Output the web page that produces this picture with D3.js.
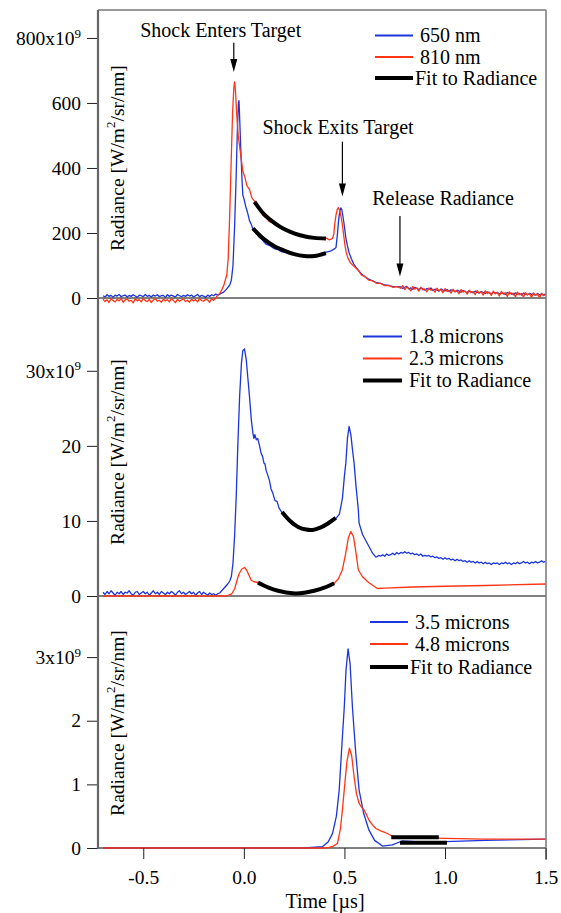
<!DOCTYPE html>
<html>
<head>
<meta charset="utf-8">
<title>Radiance vs Time</title>
<script src="https://d3js.org/d3.v7.min.js"></script>
<style>
    body {
        margin: 0;
        background: #fff;
    }
    svg text {
        font-family: "Liberation Serif", serif;
        fill: #000;
    }
</style>
</head>
<body>
<div id="chart"></div>
<script>
    // ---- data: [time in µs, radiance] ----
    const visible650 = [
        [-0.70,7],[-0.69,3],[-0.68,10],[-0.67,5],[-0.66,8],[-0.65,2],[-0.64,9],[-0.63,6],[-0.62,11],[-0.61,4],
        [-0.60,7],[-0.59,9],[-0.58,3],[-0.57,8],[-0.56,5],[-0.55,10],[-0.54,6],[-0.53,2],[-0.52,9],[-0.51,7],
        [-0.50,4],[-0.49,11],[-0.48,5],[-0.47,8],[-0.46,3],[-0.45,9],[-0.44,6],[-0.43,10],[-0.42,4],[-0.41,7],
        [-0.40,8],[-0.39,2],[-0.38,10],[-0.37,5],[-0.36,9],[-0.35,6],[-0.34,3],[-0.33,11],[-0.32,7],[-0.31,4],
        [-0.30,8],[-0.29,5],[-0.28,10],[-0.27,6],[-0.26,9],[-0.25,3],[-0.24,7],[-0.23,11],[-0.22,4],[-0.21,8],
        [-0.20,6],[-0.19,2],[-0.18,9],[-0.17,5],[-0.16,10],[-0.15,7],[-0.14,12],[-0.13,9],
        [-0.12,12],[-0.10,18],[-0.085,28],[-0.07,40],[-0.062,55],[-0.054,100],[-0.046,219],[-0.038,380],
        [-0.032,520],[-0.027,600],[-0.024,607],[-0.02,540],[-0.016,470],[-0.013,425],[-0.009,360],[-0.005,317],
        [0.002,302],[0.01,280],[0.018,264],[0.028,238],[0.036,228],[0.045,212],[0.06,202],[0.075,188],
        [0.09,180],[0.11,166],[0.13,161],[0.15,152],[0.17,149],[0.19,142],[0.21,141],[0.23,135],[0.25,134],
        [0.27,130],[0.29,130],[0.31,127],[0.33,130],[0.35,129],[0.37,133],[0.39,134],[0.41,141],[0.43,144],
        [0.45,151],[0.458,155],[0.465,195],[0.472,245],[0.478,270],[0.482,277],[0.487,272],[0.493,250],
        [0.50,220],[0.507,185],[0.515,160],[0.523,140],[0.535,120],[0.546,105],[0.556,96],[0.57,85],[0.585,74],
        [0.60,66],[0.62,58],[0.64,53],[0.66,47],[0.68,45],[0.70,40],[0.72,39],[0.74,35],[0.76,35],
        [0.78,34],[0.79,29],[0.80,33],[0.81,36],[0.82,28],[0.83,31],[0.84,27],[0.85,33],[0.86,30],[0.87,26],
        [0.88,31],[0.89,28],[0.90,24],[0.91,29],[0.92,27],[0.93,31],[0.94,23],[0.95,27],[0.96,25],[0.97,21],
        [0.98,28],[0.99,24],[1.00,22],[1.01,26],[1.02,20],[1.03,25],[1.04,23],[1.05,19],[1.06,24],[1.07,21],
        [1.08,18],[1.09,23],[1.10,20],[1.11,17],[1.12,22],[1.13,19],[1.14,16],[1.15,21],[1.16,18],[1.17,15],
        [1.18,20],[1.19,17],[1.20,14],[1.21,19],[1.22,16],[1.23,13],[1.24,18],[1.25,15],[1.26,17],[1.27,12],
        [1.28,16],[1.29,14],[1.30,11],[1.31,17],[1.32,13],[1.33,15],[1.34,10],[1.35,16],[1.36,12],[1.37,14],
        [1.38,9],[1.39,15],[1.40,12],[1.41,10],[1.42,14],[1.43,11],[1.44,13],[1.45,8],[1.46,14],[1.47,10],
        [1.48,12],[1.49,9],[1.50,13]
    ];
    const visible810 = [
        [-0.70,-3],[-0.69,-11],[-0.68,-5],[-0.67,-14],[-0.66,-2],[-0.65,-8],[-0.64,-12],[-0.63,-4],[-0.62,-9],
        [-0.61,-1],[-0.60,-13],[-0.59,-6],[-0.58,-3],[-0.57,-10],[-0.56,-7],[-0.55,-15],[-0.54,-2],[-0.53,-9],
        [-0.52,-5],[-0.51,-12],[-0.50,-1],[-0.49,-8],[-0.48,-11],[-0.47,-4],[-0.46,-14],[-0.45,-6],[-0.44,-2],
        [-0.43,-10],[-0.42,-7],[-0.41,-13],[-0.40,-3],[-0.39,-9],[-0.38,-5],[-0.37,-12],[-0.36,-1],[-0.35,-8],
        [-0.34,-14],[-0.33,-4],[-0.32,-10],[-0.31,-6],[-0.30,-2],[-0.29,-11],[-0.28,-7],[-0.27,-13],[-0.26,-3],
        [-0.25,-9],[-0.24,-5],[-0.23,-12],[-0.22,-1],[-0.21,-8],[-0.20,-10],[-0.19,-4],[-0.18,-6],[-0.17,-13],
        [-0.16,-2],[-0.15,-7],
        [-0.14,0],[-0.13,8],[-0.12,14],[-0.11,25],[-0.10,38],[-0.09,60],[-0.085,70],[-0.078,120],
        [-0.07,260],[-0.063,420],[-0.056,570],[-0.05,645],[-0.046,665],[-0.042,640],[-0.035,560],[-0.028,500],
        [-0.021,466],[-0.013,428],[-0.005,390],[0.005,372],[0.015,346],[0.028,334],[0.04,308],[0.053,298],
        [0.065,280],[0.08,270],[0.095,254],[0.11,248],[0.125,236],[0.14,232],[0.16,222],[0.176,220],[0.19,212],
        [0.21,209],[0.23,201],[0.25,199],[0.27,192],[0.292,191],[0.31,186],[0.33,188],[0.35,183],[0.37,186],
        [0.39,181],[0.41,184],[0.425,179],[0.44,183],[0.447,195],[0.452,228],[0.458,255],[0.464,272],[0.47,278],
        [0.476,270],[0.483,250],[0.49,225],[0.497,190],[0.503,160],[0.509,140],[0.518,122],[0.53,108],
        [0.543,100],[0.556,93],[0.57,84],[0.585,70],[0.60,67],[0.62,55],[0.64,53],[0.66,45],[0.68,45],[0.70,38],
        [0.72,39],[0.74,33],[0.76,35],
        [0.78,30],[0.79,38],[0.80,26],[0.81,34],[0.82,29],[0.83,22],[0.84,35],[0.85,27],[0.86,31],[0.87,21],
        [0.88,33],[0.89,25],[0.90,28],[0.91,19],[0.92,31],[0.93,24],[0.94,27],[0.95,18],[0.96,30],[0.97,22],
        [0.98,26],[0.99,16],[1.00,29],[1.01,20],[1.02,24],[1.03,15],[1.04,27],[1.05,19],[1.06,22],[1.07,13],
        [1.08,26],[1.09,18],[1.10,21],[1.11,12],[1.12,24],[1.13,16],[1.14,20],[1.15,10],[1.16,23],[1.17,15],
        [1.18,19],[1.19,9],[1.20,22],[1.21,14],[1.22,18],[1.23,8],[1.24,21],[1.25,13],[1.26,17],[1.27,6],
        [1.28,20],[1.29,12],[1.30,16],[1.31,5],[1.32,19],[1.33,11],[1.34,15],[1.35,4],[1.36,18],[1.37,10],
        [1.38,14],[1.39,3],[1.40,17],[1.41,9],[1.42,13],[1.43,2],[1.44,16],[1.45,8],[1.46,12],[1.47,1],
        [1.48,15],[1.49,7],[1.50,11]
    ];
    const fit650 = [[0.045,214],[0.10,181],[0.15,160],[0.20,146],[0.25,135],[0.30,129],[0.35,129],[0.408,138]];
    const fit810 = [[0.053,296],[0.10,258],[0.15,232],[0.20,212],[0.25,199],[0.30,190],[0.35,185],[0.408,183]];

    const ir18 = [
        [-0.70,0.5],[-0.69,0.2],[-0.68,0.6],[-0.67,0.3],[-0.66,0.7],[-0.65,0.4],[-0.64,0.1],[-0.63,0.5],
        [-0.62,0.3],[-0.61,0.6],[-0.60,0.2],[-0.59,0.5],[-0.58,0.4],[-0.57,0.7],[-0.56,0.3],[-0.55,0.1],
        [-0.54,0.5],[-0.53,0.6],[-0.52,0.2],[-0.51,0.4],[-0.50,0.6],[-0.49,0.3],[-0.48,0.5],[-0.47,0.1],
        [-0.46,0.4],[-0.45,0.7],[-0.44,0.3],[-0.43,0.5],[-0.42,0.2],[-0.41,0.6],[-0.40,0.4],[-0.39,0.2],
        [-0.38,0.5],[-0.37,0.3],[-0.36,0.6],[-0.35,0.4],[-0.34,0.1],[-0.33,0.5],[-0.32,0.7],[-0.31,0.3],
        [-0.30,0.5],[-0.29,0.2],[-0.28,0.4],[-0.27,0.6],[-0.26,0.3],[-0.25,0.5],[-0.24,0.1],[-0.23,0.4],
        [-0.22,0.6],[-0.21,0.2],[-0.20,0.5],[-0.19,0.3],[-0.18,0.1],[-0.17,0.4],[-0.16,0.2],[-0.15,0.3],
        [-0.14,0.1],[-0.13,0.3],
        [-0.12,0.4],[-0.11,0.7],[-0.10,1.0],[-0.09,1.3],[-0.08,1.6],[-0.07,2.0],[-0.062,2.6],[-0.054,4.4],
        [-0.046,8.0],[-0.038,13.2],[-0.03,20.0],[-0.021,26.6],[-0.012,31.0],[-0.005,32.7],[0.0035,32.9],
        [0.012,31.5],[0.02,29.0],[0.028,26.6],[0.037,23.5],[0.045,21.7],[0.05,21.0],[0.055,21.5],[0.062,20.8],
        [0.069,21.0],[0.078,20.0],[0.086,19.0],[0.093,18.6],[0.10,17.7],[0.105,17.6],[0.111,16.7],[0.12,16.0],
        [0.127,15.4],[0.135,14.3],[0.144,13.7],[0.155,12.7],[0.165,12.6],[0.175,11.7],[0.185,11.3],[0.21,10.4],
        [0.24,9.5],[0.27,9.2],[0.30,8.8],[0.342,8.9],[0.38,9.1],[0.42,9.9],[0.457,10.3],[0.475,10.9],
        [0.49,13.0],[0.50,16.0],[0.507,17.7],[0.515,21.0],[0.523,22.6],[0.532,21.5],[0.54,19.5],[0.548,17.7],
        [0.558,14.5],[0.569,11.5],[0.573,9.7],[0.59,8.2],[0.61,7.2],[0.622,6.6],[0.64,5.7],[0.655,5.2],
        [0.66,5.2],[0.67,5.4],[0.68,5.3],[0.69,5.5],[0.70,5.3],[0.71,5.6],[0.72,5.4],[0.73,5.5],[0.74,5.7],
        [0.75,5.5],[0.76,5.8],[0.77,5.6],[0.78,5.8],[0.79,5.7],[0.80,5.9],[0.81,5.7],[0.82,5.8],[0.83,5.6],
        [0.84,5.7],[0.85,5.5],[0.86,5.6],[0.87,5.4],[0.88,5.6],[0.89,5.3],[0.90,5.4],[0.91,5.3],[0.92,5.4],
        [0.93,5.2],[0.94,5.3],[0.95,5.1],[0.96,5.2],[0.97,5.0],[0.98,5.1],[0.99,4.9],[1.00,5.1],[1.01,4.9],
        [1.02,5.0],[1.03,4.8],[1.04,4.9],[1.05,4.7],[1.06,4.9],[1.07,4.7],[1.08,4.8],[1.09,4.6],[1.10,4.7],
        [1.11,4.5],[1.12,4.7],[1.13,4.5],[1.14,4.6],[1.15,4.4],[1.16,4.6],[1.17,4.4],[1.18,4.5],[1.19,4.3],
        [1.20,4.5],[1.21,4.3],[1.22,4.4],[1.23,4.2],[1.24,4.4],[1.25,4.3],[1.26,4.4],[1.27,4.2],[1.28,4.4],
        [1.29,4.3],[1.30,4.5],[1.31,4.3],[1.32,4.4],[1.33,4.2],[1.34,4.4],[1.35,4.3],[1.36,4.5],[1.37,4.3],
        [1.38,4.4],[1.39,4.6],[1.40,4.4],[1.41,4.5],[1.42,4.3],[1.43,4.5],[1.44,4.4],[1.45,4.6],[1.46,4.4],
        [1.47,4.5],[1.48,4.7],[1.49,4.5],[1.50,4.6]
    ];
    const ir23 = [
        [-0.70,0],[-0.10,0],[-0.08,0.05],[-0.06,0.3],[-0.045,1.0],[-0.038,1.7],[-0.025,2.9],[-0.01,3.6],
        [0.0035,3.8],[0.015,3.4],[0.025,2.8],[0.037,2.1],[0.05,1.9],[0.07,1.8],[0.10,1.4],[0.15,0.9],
        [0.20,0.55],[0.243,0.36],[0.30,0.45],[0.35,0.7],[0.40,1.1],[0.449,1.7],[0.47,2.3],[0.49,3.5],
        [0.505,5.5],[0.52,7.8],[0.532,8.6],[0.545,7.9],[0.555,6.2],[0.569,3.5],[0.589,2.6],[0.62,1.8],
        [0.664,1.0],[0.70,1.05],[0.838,1.2],[1.00,1.3],[1.20,1.4],[1.50,1.6]
    ];
    const fit18 = [[0.19,11.2],[0.23,10.0],[0.27,9.2],[0.31,8.85],[0.342,8.8],[0.38,9.1],[0.42,9.7],[0.457,10.4]];
    const fit23 = [[0.07,1.8],[0.12,1.15],[0.17,0.7],[0.243,0.36],[0.30,0.42],[0.35,0.7],[0.40,1.1],[0.449,1.7]];

    const ir35 = [
        [-0.70,0],[0.30,0],[0.39,0.02],[0.42,0.1],[0.441,0.23],[0.46,0.5],[0.474,0.91],[0.487,1.6],[0.499,2.2],
        [0.508,2.8],[0.518,3.13],[0.528,2.9],[0.54,2.2],[0.556,1.5],[0.573,0.91],[0.595,0.55],[0.622,0.28],
        [0.65,0.12],[0.689,0.03],[0.738,0.05],[0.787,0.11],[0.85,0.1],[1.00,0.1],[1.20,0.12],[1.50,0.14]
    ];
    const ir48 = [
        [-0.70,0],[0.40,0],[0.424,0.01],[0.445,0.03],[0.465,0.07],[0.48,0.3],[0.49,0.6],[0.499,0.91],
        [0.512,1.35],[0.525,1.57],[0.536,1.45],[0.548,1.12],[0.56,0.85],[0.573,0.70],[0.585,0.64],[0.597,0.60],
        [0.61,0.52],[0.622,0.44],[0.64,0.36],[0.655,0.31],[0.68,0.27],[0.705,0.24],[0.73,0.20],[0.746,0.18],
        [0.80,0.17],[0.90,0.16],[1.00,0.15],[1.20,0.14],[1.50,0.14]
    ];
    const fit35 = [[0.776,0.083],[1.01,0.083]];
    const fit48 = [[0.733,0.17],[0.969,0.17]];

    const xTicks = [-0.5, 0, 0.5, 1.0, 1.5];
    const yTicks1 = [0, 200, 400, 600, 800];
    const yTicks2 = [0, 10, 20, 30];
    const yTicks3 = [0, 1, 2, 3];
    const legend1 = ["650 nm", "810 nm", "Fit to Radiance"];
    const legend2 = ["1.8 microns", "2.3 microns", "Fit to Radiance"];
    const legend3 = ["3.5 microns", "4.8 microns", "Fit to Radiance"];
    // annotations in panel 1: [label, text t, text v, arrow t, arrow top v, arrow tip v]
    const notes = [
        ["Shock Enters Target", -0.115, 803, -0.05, 785, 695],
        ["Shock Exits Target", 0.468, 505, 0.49, 481, 312],
        ["Release Radiance", 0.99, 286, 0.776, 252, 66]
    ];

    const FONT = "'Liberation Serif', serif";
    const BLUE = "#1c35dc", RED = "#ff3516";
    const axisLeftX = 98, axisRightX = 546;

    const svg = d3.select("#chart").append("svg")
        .attr("width", 561)
        .attr("height", 913);

    const x = d3.scaleLinear().domain([-0.725, 1.5]).range([axisLeftX, 545.6]);

    const panels = [
        {top: 10, bottom: 298, max: 886, ticks: yTicks1, exp: "800x10",
         blue: visible650, red: visible810, fits: [fit650, fit810], names: legend1,
         leg: {x1: 375, x2: 413, rows: [35.5, 57, 78], tx: [420, 420, 415]}, titleY: 158},
        {top: 298, bottom: 596, max: 39.7, ticks: yTicks2, exp: "30x10",
         blue: ir18, red: ir23, fits: [fit18, fit23], names: legend2,
         leg: {x1: 363, x2: 402, rows: [336.5, 358.5, 380.5], tx: [409, 409, 409]}, titleY: 452},
        {top: 596, bottom: 848, max: 3.96, ticks: yTicks3, exp: "3x10",
         blue: ir35, red: ir48, fits: [fit35, fit48], names: legend3,
         leg: {x1: 370, x2: 408, rows: [622, 644, 667], tx: [415, 415, 410]}, titleY: 723}
    ];

    panels.forEach(p => {
        const y = d3.scaleLinear().domain([0, p.max]).range([p.bottom, p.top]);
        p.y = y;
        const g = svg.append("g");

        // zero line across the plot (doubles as separator)
        g.append("line")
            .attr("x1", axisLeftX).attr("x2", axisRightX)
            .attr("y1", y(0)).attr("y2", y(0))
            .attr("stroke", "#000").attr("stroke-width", 1);

        // y axis ticks
        const ax = g.append("g")
            .attr("transform", `translate(${axisLeftX},0)`)
            .call(d3.axisLeft(y).tickValues(p.ticks).tickSize(11).tickPadding(6)
                .tickFormat(d => d));
        ax.attr("font-family", FONT).attr("font-size", null);
        ax.select(".domain").remove();
        ax.selectAll("line").attr("stroke", "#222");
        ax.selectAll("text")
            .style("font-size", "19.5px")
            .style("font-family", FONT);
        const topVal = p.ticks[p.ticks.length - 1];
        ax.selectAll(".tick").filter(d => d === topVal).select("text")
            .text(p.exp)
            .append("tspan")
            .attr("dy", "-0.55em")
            .style("font-size", "13px")
            .text("9");

        // y title
        const title = g.append("text")
            .attr("transform", `translate(124,${p.titleY}) rotate(-90)`)
            .attr("text-anchor", "middle")
            .style("font-family", FONT)
            .style("font-size", "19.5px");
        title.append("tspan").text("Radiance [W/m");
        title.append("tspan").attr("dy", -9).style("font-size", "13px").text("2");
        title.append("tspan").attr("dy", 9).text("/sr/nm]");

        const line = d3.line().x(d => x(d[0])).y(d => y(d[1]));
        const smooth = d3.line().x(d => x(d[0])).y(d => y(d[1])).curve(d3.curveCatmullRom);

        g.append("path").datum(p.blue)
            .attr("d", line).attr("fill", "none")
            .attr("stroke", BLUE).attr("stroke-width", 1.3).attr("stroke-linejoin", "round");
        g.append("path").datum(p.red)
            .attr("d", line).attr("fill", "none")
            .attr("stroke", RED).attr("stroke-width", 1.3).attr("stroke-linejoin", "round");
        p.fits.forEach(f => {
            g.append("path").datum(f)
                .attr("d", smooth).attr("fill", "none")
                .attr("stroke", "#000").attr("stroke-width", 4);
        });

        // legend
        const cols = [BLUE, RED, "#000"];
        const widths = [2, 2, 4];
        p.names.forEach((name, k) => {
            const ry = p.leg.rows[k];
            g.append("line")
                .attr("x1", p.leg.x1).attr("x2", p.leg.x2)
                .attr("y1", ry).attr("y2", ry)
                .attr("stroke", cols[k]).attr("stroke-width", widths[k]);
            g.append("text")
                .attr("x", p.leg.tx[k]).attr("y", ry + 6.5)
                .style("font-family", FONT)
                .style("font-size", "20px")
                .text(name);
        });
    });

    // annotations with arrows on panel 1
    const y1 = panels[0].y;
    notes.forEach(n => {
        svg.append("text")
            .attr("x", x(n[1])).attr("y", y1(n[2]))
            .attr("text-anchor", "middle")
            .style("font-family", FONT)
            .style("font-size", "20px")
            .text(n[0]);
        const ax = x(n[3]), top = y1(n[4]), tip = y1(n[5]);
        svg.append("line")
            .attr("x1", ax).attr("x2", ax)
            .attr("y1", top).attr("y2", tip - 10)
            .attr("stroke", "#000").attr("stroke-width", 1.2);
        svg.append("path")
            .attr("d", `M${ax - 3.5},${tip - 13}L${ax + 3.5},${tip - 13}L${ax},${tip}Z`)
            .attr("fill", "#000");
    });

    // frame: left axis, top and right borders
    svg.append("line")
        .attr("x1", axisLeftX).attr("x2", axisLeftX)
        .attr("y1", 10).attr("y2", 849)
        .attr("stroke", "#666").attr("stroke-width", 2.2);
    svg.append("line")
        .attr("x1", axisLeftX).attr("x2", axisRightX)
        .attr("y1", 10).attr("y2", 10)
        .attr("stroke", "#777").attr("stroke-width", 1.5);
    svg.append("line")
        .attr("x1", axisRightX).attr("x2", axisRightX)
        .attr("y1", 10).attr("y2", 860)
        .attr("stroke", "#777").attr("stroke-width", 1.5);

    // bottom time axis
    const xa = svg.append("g")
        .attr("transform", "translate(0,848)")
        .call(d3.axisBottom(x).tickValues(xTicks).tickSize(11).tickPadding(11)
            .tickFormat(d => d.toFixed(1)));
    xa.attr("font-family", FONT).attr("font-size", null);
    xa.select(".domain").remove();
    xa.selectAll("line").attr("stroke", "#222");
    xa.selectAll("text")
        .style("font-size", "19.5px")
        .style("font-family", FONT);

    svg.append("text")
        .attr("x", 325).attr("y", 908)
        .attr("text-anchor", "middle")
        .style("font-family", FONT)
        .style("font-size", "20px")
        .text("Time [µs]");
</script>
</body>
</html>
